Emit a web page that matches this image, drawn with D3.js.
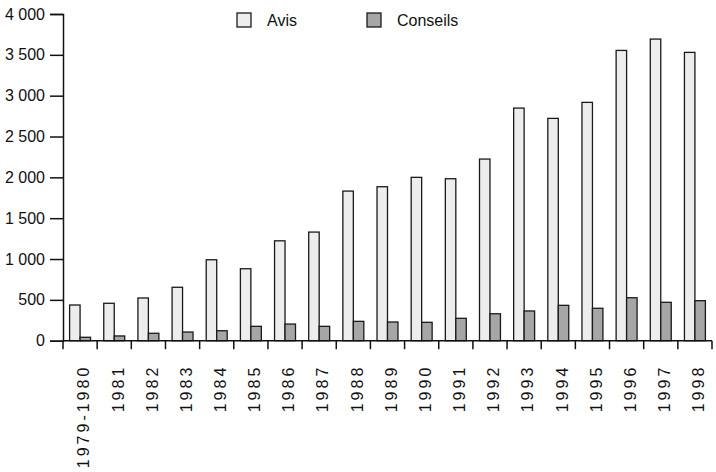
<!DOCTYPE html>
<html>
<head>
<meta charset="utf-8">
<script src="https://cdn.jsdelivr.net/npm/d3@7"></script>
<style>
  body { margin: 0; background: #fff; }
  svg { display: block; }
  text { font-family: "Liberation Sans", Arial, sans-serif; fill: #111; }
</style>
</head>
<body>
<svg id="chart" width="716" height="472"></svg>
<script>
const categories = ["1979-1980","1981","1982","1983","1984","1985","1986","1987","1988","1989","1990","1991","1992","1993","1994","1995","1996","1997","1998"];
const avis =     [437, 458, 523, 654, 991, 881, 1223, 1330, 1832, 1885, 2000, 1983, 2224, 2848, 2722, 2918, 3554, 3693, 3530];
const conseils = [42, 58, 91, 106, 122, 176, 204, 176, 237, 229, 225, 274, 330, 364, 433, 397, 526, 470, 490];
const seriesNames = ["Avis", "Conseils"];
const yTicks = [0, 500, 1000, 1500, 2000, 2500, 3000, 3500, 4000];

(function () {
const colors = { Avis: "#ededed", Conseils: "#a6a6a6" };
const FONT = '"Liberation Sans", Arial, sans-serif';

const svg = d3.select("#chart");
const mLeft = 63, mRight = 712, mTop = 14, mBottom = 340.7;

const x = d3.scaleBand().domain(categories).range([mLeft, mRight]).paddingInner(0).paddingOuter(0);
const xs = d3.scaleBand().domain(seriesNames).range([0, x.bandwidth()]).paddingInner(0).paddingOuter(0.63);
const y = d3.scaleLinear().domain([0, 4000]).range([mBottom, mTop]);

const data = categories.map((c, i) => ({ cat: c, Avis: avis[i], Conseils: conseils[i] }));

// bars
const g = svg.append("g");
const groups = g.selectAll("g.grp").data(data).enter().append("g")
  .attr("transform", d => `translate(${x(d.cat)},0)`);
groups.selectAll("rect").data(d => seriesNames.map(k => ({ key: k, value: d[k] }))).enter().append("rect")
  .attr("x", d => xs(d.key))
  .attr("y", d => y(d.value))
  .attr("width", xs.bandwidth())
  .attr("height", d => y(0) - y(d.value))
  .attr("fill", d => colors[d.key])
  .attr("stroke", "#1a1a1a")
  .attr("stroke-width", 1.3);

// y axis
const yAxis = d3.axisLeft(y).tickValues(yTicks).tickSize(13).tickPadding(5)
  .tickFormat(d => d3.format(",")(d).replace(/,/g, " "));
const ya = svg.append("g").attr("transform", `translate(${mLeft},0)`).call(yAxis);
ya.select(".domain").attr("stroke", "#111").attr("stroke-width", 1.5);
ya.selectAll(".tick line").attr("stroke", "#111").attr("stroke-width", 1.5);
ya.selectAll(".tick text").attr("font-size", 16).attr("fill", "#111").style("font-family", FONT);

// x axis line and boundary ticks
svg.append("line").attr("x1", mLeft).attr("x2", mRight).attr("y1", y(0)).attr("y2", y(0))
  .attr("stroke", "#111").attr("stroke-width", 1.5);
const bounds = categories.map(c => x(c)).concat([x(categories[categories.length - 1]) + x.bandwidth()]);
svg.selectAll("line.xt").data(bounds).enter().append("line")
  .attr("class", "xt")
  .attr("x1", d => d).attr("x2", d => d)
  .attr("y1", y(0)).attr("y2", y(0) + 8.5)
  .attr("stroke", "#111").attr("stroke-width", 1.5);

// x labels (rotated, letter spaced)
svg.selectAll("text.xl").data(categories).enter().append("text")
  .attr("class", "xl")
  .attr("transform", d => `translate(${x(d) + x.bandwidth() / 2 + 3.5},${y(0) + 24}) rotate(-90)`)
  .attr("text-anchor", "end")
  .attr("dy", "0.36em")
  .attr("font-size", 16)
  .style("letter-spacing", "3px")
  .text(d => d);

// legend
const legendX = { Avis: 237, Conseils: 367 };
seriesNames.forEach(k => {
  svg.append("rect").attr("x", legendX[k]).attr("y", 13).attr("width", 14).attr("height", 14)
    .attr("fill", colors[k]).attr("stroke", "#1a1a1a").attr("stroke-width", 1.3);
  svg.append("text").attr("x", legendX[k] + 30).attr("y", 26).attr("font-size", 16).text(k);
});
})();
</script>
</body>
</html>
